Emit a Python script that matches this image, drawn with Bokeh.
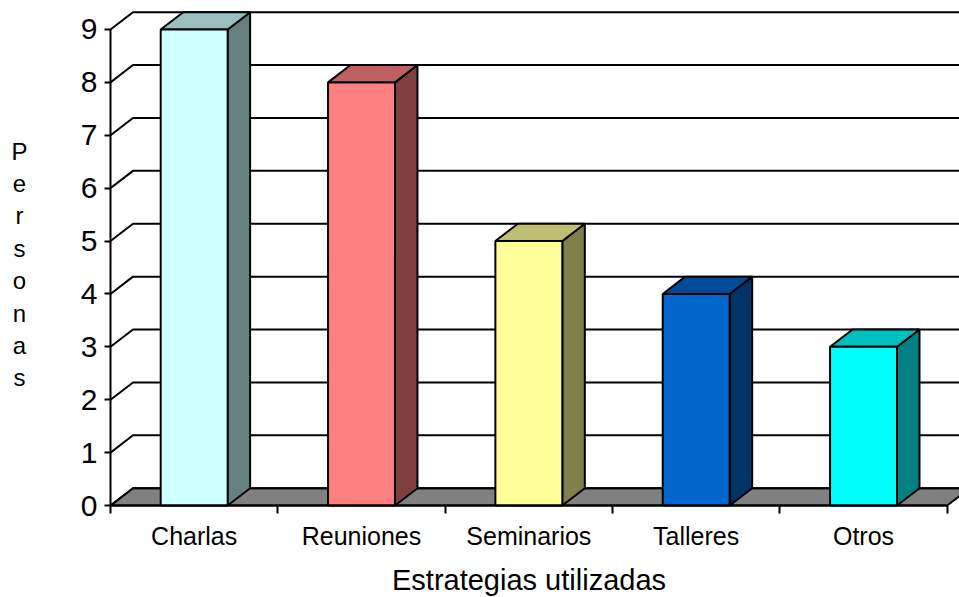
from bokeh.plotting import figure
from bokeh.models import Range1d, FixedTicker, ColumnDataSource
from bokeh.core.properties import value
from bokeh.embed import file_html
from bokeh.resources import INLINE

# Chart data
categories = ["Charlas", "Reuniones", "Seminarios", "Talleres", "Otros"]
values = [9, 8, 5, 4, 3]
y_ticks = [0, 1, 2, 3, 4, 5, 6, 7, 8, 9]
y_title = "Personas"
x_title = "Estrategias utilizadas"

# Face colours per bar: front, top (lighter shade), side (darker shade)
front_colors = ["#CCFFFF", "#FF8080", "#FFFF99", "#0066CC", "#00FFFF"]
top_colors = ["#99BFBF", "#BF6060", "#BFBF73", "#004C99", "#00BFBF"]
side_colors = ["#668080", "#804040", "#80804D", "#003366", "#008080"]

FONT = "Liberation Sans"

n = len(categories)
y_max = max(y_ticks)

# Pixel scale of the plot (px per category / px per unit) and the
# pseudo-3D depth offset, converted to data units
PX_X = 167.34
PX_Y = 52.89
DX = 22.5 / PX_X
DY = 17.3 / PX_Y
BAR_HALF = 0.2

W, H = 959, 597
LEFT_PX, BOTTOM_PX = 110, 92

p = figure(
    frame_width=W, frame_height=H,
    x_range=Range1d(-LEFT_PX / PX_X, (W - LEFT_PX) / PX_X),
    y_range=Range1d(-BOTTOM_PX / PX_Y, (H - BOTTOM_PX) / PX_Y),
    output_backend="svg", toolbar_location=None,
    min_border=0,
)
p.outline_line_color = None
p.grid.visible = False
p.background_fill_color = "white"
p.border_fill_color = "white"

# Floor
p.patch([0, n, n + DX, DX], [0, 0, DY, DY], fill_color="#808080",
        line_color="black", line_width=2)

# Wall gridlines: diagonal on the side wall, horizontal on the back wall
grid_xs = [[0, DX, n + DX] for v in y_ticks]
grid_ys = [[v, v + DY, v + DY] for v in y_ticks]
p.multi_line(grid_xs, grid_ys, line_color="black", line_width=2)

# Bars: front, top and side faces
front = ColumnDataSource(dict(
    left=[i + 0.5 - BAR_HALF for i in range(n)],
    right=[i + 0.5 + BAR_HALF for i in range(n)],
    top=values, bottom=[0] * n, color=front_colors,
))
tops_x, tops_y, sides_x, sides_y = [], [], [], []
for i, v in enumerate(values):
    l, r = i + 0.5 - BAR_HALF, i + 0.5 + BAR_HALF
    tops_x.append([l, r, r + DX, l + DX])
    tops_y.append([v, v, v + DY, v + DY])
    sides_x.append([r, r + DX, r + DX, r])
    sides_y.append([0, DY, v + DY, v])

p.patches(sides_x, sides_y, fill_color=side_colors, line_color="black", line_width=2)
p.patches(tops_x, tops_y, fill_color=top_colors, line_color="black", line_width=2)
p.quad(left="left", right="right", top="top", bottom="bottom", source=front,
       fill_color="color", line_color="black", line_width=2)

# Y axis, pinned at x = 0
ya = p.yaxis[0]
ya.fixed_location = 0
ya.ticker = FixedTicker(ticks=y_ticks)
ya.bounds = (0, y_max)
ya.axis_line_width = 2
ya.axis_line_color = "black"
ya.major_tick_line_width = 2
ya.major_tick_line_color = "black"
ya.major_tick_out = 6
ya.major_tick_in = 0
ya.minor_tick_line_color = None
ya.major_label_text_font = FONT
ya.major_label_text_font_size = "30px"
ya.major_label_text_color = "black"
ya.major_label_standoff = 7

# X axis, pinned at y = 0: labels centred in each category,
# tick marks on the category boundaries
xa = p.xaxis[0]
xa.fixed_location = 0
xa.ticker = FixedTicker(ticks=[i + 0.5 for i in range(n)],
                        minor_ticks=[i for i in range(n + 1)])
xa.major_label_overrides = {i + 0.5: c for i, c in enumerate(categories)}
xa.bounds = (0, n)
xa.axis_line_width = 2
xa.axis_line_color = "black"
xa.major_tick_out = 0
xa.major_tick_in = 0
xa.minor_tick_out = 8
xa.minor_tick_in = 0
xa.minor_tick_line_width = 2
xa.minor_tick_line_color = "black"
xa.major_label_text_font = FONT
xa.major_label_text_font_size = "25px"
xa.major_label_text_color = "black"
xa.major_label_standoff = 8
xa.axis_label = x_title
xa.axis_label_text_font = FONT
xa.axis_label_text_font_size = "29px"
xa.axis_label_text_font_style = "normal"
xa.axis_label_text_color = "black"
xa.axis_label_standoff = 11

# Y title written as a vertical stack of letters left of the axis
p.text(x=[-91 / PX_X], y=[(505 - 264) / PX_Y], text=["\n".join(y_title)],
       text_font=value(FONT), text_font_size="24px", text_color="black",
       text_align="center", text_baseline="middle", text_line_height=1.2)

open("out.html", "w").write(file_html(p, INLINE))
